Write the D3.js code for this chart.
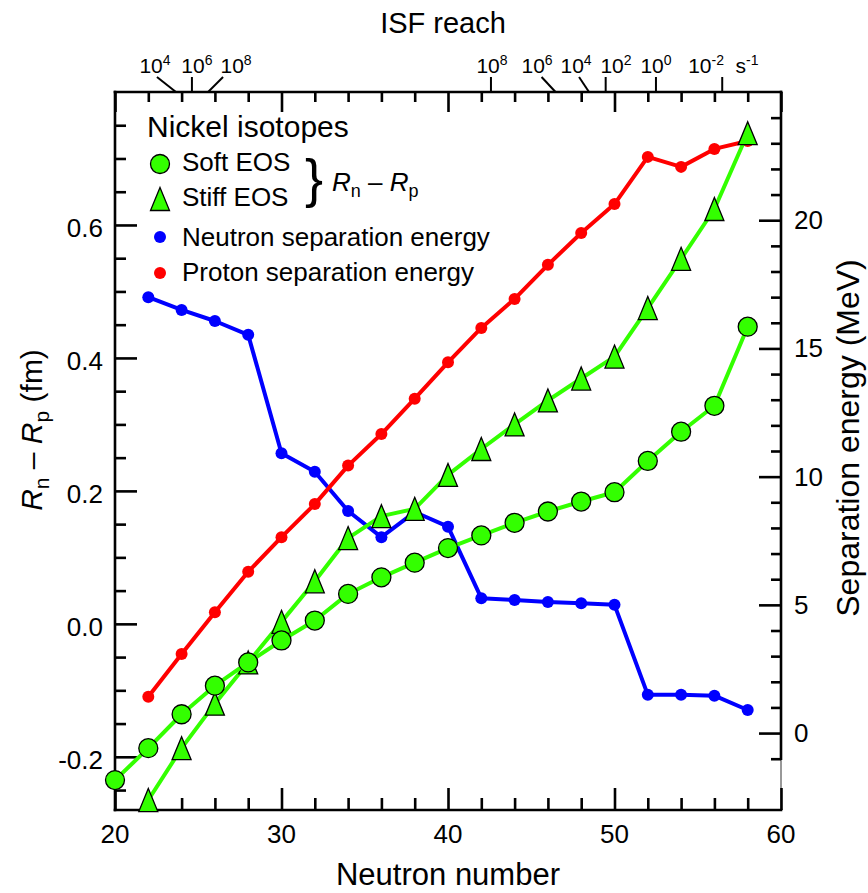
<!DOCTYPE html>
<html>
<head>
<meta charset="utf-8">
<script src="https://cdn.jsdelivr.net/npm/d3@7"></script>
<style>
  body { margin: 0; background: #fff; }
  svg text { font-family: "Liberation Sans", Arial, Helvetica, sans-serif; fill: #000; }
</style>
</head>
<body>
<div id="chartDiv"></div>
<script>
// DATA
var softN = [20, 22, 24, 26, 28, 30, 32, 34, 36, 38, 40, 42, 44, 46, 48, 50, 52, 54, 56, 58];
var softEOS = [-0.235, -0.187, -0.136, -0.093, -0.058, -0.025, 0.005, 0.045, 0.070, 0.092, 0.114,
  0.133, 0.152, 0.169, 0.184, 0.198, 0.245, 0.289, 0.328, 0.447];

var stiffN = [22, 24, 26, 28, 30, 32, 34, 36, 38, 40, 42, 44, 46, 48, 50, 52, 54, 56, 58];
var stiffEOS = [-0.265, -0.187, -0.120, -0.058, 0.003, 0.064, 0.129, 0.162, 0.173, 0.224,
  0.263, 0.300, 0.336, 0.369, 0.402, 0.475, 0.549, 0.624, 0.738];

var sepN = [22, 24, 26, 28, 30, 32, 34, 36, 38, 40, 42, 44, 46, 48, 50, 52, 54, 56, 58];
var neutronSep = [17.0, 16.5, 16.07, 15.53, 10.91, 10.19, 8.66, 7.64, 8.62, 8.05,
  5.26, 5.19, 5.11, 5.06, 5.0, 1.49, 1.49, 1.46, 0.9];
var protonSep = [1.42, 3.08, 4.71, 6.29, 7.64, 8.93, 10.43, 11.66, 13.04, 14.46,
  15.8, 16.93, 18.26, 19.5, 20.63, 22.47, 22.08, 22.78, 23.09];

var xMajor = [20, 30, 40, 50, 60];
var xLabels = ['20', '30', '40', '50', '60'];
var leftMajor = [-0.2, 0, 0.2, 0.4, 0.6];
var leftLabels = ['-0.2', '0.0', '0.2', '0.4', '0.6'];
var rightMajor = [0, 5, 10, 15, 20];
var rightLabels = ['0', '5', '10', '15', '20'];

// ISF reach annotations on the top axis (exponent, where it hits the axis, where the label sits)
var isfExp = ['4', '6', '8', '8', '6', '4', '2', '0', '-2'];
var isfTickN = [23.66, 24.62, 25.59, 42.58, 46.46, 48.47, 49.47, 52.49, 56.47];
var isfLabelN = [22.4, 24.92, 27.27, 42.64, 45.35, 47.69, 50.09, 52.49, 55.5];
var isfLineTopN = [22.52, 24.62, 26.49, 42.58, 45.62, 47.87, 49.47, 52.49, 56.47];

var green = '#33ff00', blue = '#0000ff', red = '#ff0000';

var w = 868, h = 893,
  padL = 115, padR = 781, padT = 92, padB = 810; //plot box edges in px

var svg = d3.select('#chartDiv').append('svg')
  .attr('width', w)
  .attr('height', h);

var x = d3.scaleLinear().domain([20, 60]).range([padL, padR]);
var yL = d3.scaleLinear().domain([-0.28, 0.8]).range([padB, padT]);
var yR = d3.scaleLinear().domain([-3, 25]).range([padB, padT]);

//thin frame, thick axes on top of it
svg.append('rect')
  .attr('x', padL).attr('y', padT)
  .attr('width', padR - padL).attr('height', padB - padT)
  .attr('fill', 'none').attr('stroke', '#777').attr('stroke-width', 1.5);

function axisLine(x1, y1, x2, y2) {
  svg.append('line')
    .attr('x1', x1).attr('y1', y1).attr('x2', x2).attr('y2', y2)
    .attr('stroke', '#000').attr('stroke-width', 2.6)
    .attr('stroke-linecap', 'square');
}
axisLine(padL, padT, padR, padT);
axisLine(padL, padB, padR, padB);
axisLine(padL, padT, padL, padB);
axisLine(padR, padT, padR, yR(-1));

// ticks (inward)
var xMinor = d3.range(22, 60, 2).filter(function(d) { return d % 10 !== 0; });
var leftMinor = d3.range(-5, 16, 1).filter(function(d) { return d % 4 !== 0; })
  .map(function(d) { return d * 0.05; });
var rightMinor = d3.range(-1, 25, 1).filter(function(d) { return d % 5 !== 0; });

function ticks(axis, tx, ty) {
  var g = svg.append('g')
    .attr('transform', 'translate(' + tx + ',' + ty + ')')
    .call(axis.tickFormat('').tickSizeOuter(0));
  g.select('.domain').remove();
  g.selectAll('line').attr('stroke', '#000').attr('stroke-width', 2.6);
}
ticks(d3.axisTop(x).tickValues(xMajor).tickSize(22), 0, padB);
ticks(d3.axisTop(x).tickValues(xMinor).tickSize(12), 0, padB);
ticks(d3.axisBottom(x).tickValues(xMajor).tickSize(20), 0, padT);
ticks(d3.axisBottom(x).tickValues(xMinor).tickSize(10), 0, padT);
ticks(d3.axisRight(yL).tickValues(leftMajor).tickSize(22), padL, 0);
ticks(d3.axisRight(yL).tickValues(leftMinor).tickSize(11), padL, 0);
ticks(d3.axisLeft(yR).tickValues(rightMajor).tickSize(22), padR, 0);
ticks(d3.axisLeft(yR).tickValues(rightMinor).tickSize(10), padR, 0);

// tick labels
svg.selectAll('.xlab').data(xMajor).enter().append('text')
  .attr('x', function(d) { return x(d); })
  .attr('y', 843)
  .attr('text-anchor', 'middle')
  .style('font-size', '26px')
  .text(function(d, i) { return xLabels[i]; });

svg.selectAll('.ylab').data(leftMajor).enter().append('text')
  .attr('x', 103)
  .attr('y', function(d) { return yL(d) + 12; })
  .attr('text-anchor', 'end')
  .style('font-size', '26px')
  .text(function(d, i) { return leftLabels[i]; });

svg.selectAll('.rlab').data(rightMajor).enter().append('text')
  .attr('x', 794)
  .attr('y', function(d) { return yR(d) + 9; })
  .style('font-size', '26px')
  .text(function(d, i) { return rightLabels[i]; });

// axis titles
svg.append('text')
  .attr('x', (padL + padR) / 2).attr('y', 885)
  .attr('text-anchor', 'middle')
  .style('font-size', '31px')
  .text('Neutron number');

svg.append('text')
  .attr('x', 443).attr('y', 33)
  .attr('text-anchor', 'middle')
  .style('font-size', '29px')
  .text('ISF reach');

var lt = svg.append('text')
  .attr('transform', 'translate(42,430) rotate(-90)')
  .attr('text-anchor', 'middle')
  .style('font-size', '30px');
lt.append('tspan').style('font-style', 'italic').text('R');
lt.append('tspan').attr('dy', 7).style('font-size', '21px').text('n');
lt.append('tspan').attr('dy', -7).text(' – ');
lt.append('tspan').style('font-style', 'italic').text('R');
lt.append('tspan').attr('dy', 7).style('font-size', '21px').text('p');
lt.append('tspan').attr('dy', -7).text(' (fm)');

svg.append('text')
  .attr('transform', 'translate(859,438) rotate(-90)')
  .attr('text-anchor', 'middle')
  .style('font-size', '32px')
  .text('Separation energy (MeV)');

// ISF reach labels
isfExp.forEach(function(e, i) {
  var t = svg.append('text')
    .attr('x', x(isfLabelN[i])).attr('y', 73)
    .attr('text-anchor', 'middle')
    .style('font-size', '21px');
  t.append('tspan').text('10');
  t.append('tspan').attr('dy', -8).style('font-size', '14px').text(e);

  svg.append('line')
    .attr('x1', x(isfLineTopN[i])).attr('y1', 77)
    .attr('x2', x(isfTickN[i])).attr('y2', padT)
    .attr('stroke', '#000').attr('stroke-width', 2);
});
var su = svg.append('text')
  .attr('x', 747).attr('y', 73)
  .attr('text-anchor', 'middle')
  .style('font-size', '21px');
su.append('tspan').text('s');
su.append('tspan').attr('dy', -8).style('font-size', '14px').text('-1');

// SERIES
function drawLine(xs, ys, yScale, color) {
  var line = d3.line()
    .x(function(d) { return x(d[0]); })
    .y(function(d) { return yScale(d[1]); });
  svg.append('path')
    .datum(d3.zip(xs, ys))
    .attr('d', line)
    .attr('fill', 'none')
    .attr('stroke', color)
    .attr('stroke-width', 4)
    .attr('stroke-linejoin', 'round');
}

function triPath(cx, cy) {
  var tw = 19, th = 23;
  return 'M' + cx + ',' + (cy - th / 2) + 'L' + (cx + tw / 2) + ',' + (cy + th / 2) +
    'L' + (cx - tw / 2) + ',' + (cy + th / 2) + 'Z';
}

drawLine(sepN, neutronSep, yR, blue);
svg.selectAll('.nsep').data(sepN).enter().append('circle')
  .attr('cx', function(d) { return x(d); })
  .attr('cy', function(d, i) { return yR(neutronSep[i]); })
  .attr('r', 6).attr('fill', blue);

drawLine(sepN, protonSep, yR, red);
svg.selectAll('.psep').data(sepN).enter().append('circle')
  .attr('cx', function(d) { return x(d); })
  .attr('cy', function(d, i) { return yR(protonSep[i]); })
  .attr('r', 6).attr('fill', red);

drawLine(stiffN, stiffEOS, yL, green);
svg.selectAll('.stiff').data(stiffN).enter().append('path')
  .attr('d', function(d, i) { return triPath(x(d), yL(stiffEOS[i])); })
  .attr('fill', green).attr('stroke', '#000').attr('stroke-width', 1.3);

drawLine(softN, softEOS, yL, green);
svg.selectAll('.soft').data(softN).enter().append('circle')
  .attr('cx', function(d) { return x(d); })
  .attr('cy', function(d, i) { return yL(softEOS[i]); })
  .attr('r', 9.5)
  .attr('fill', green).attr('stroke', '#000').attr('stroke-width', 1.3);

// LEGEND
svg.append('text').attr('x', 147).attr('y', 137).style('font-size', '30px').text('Nickel isotopes');

svg.append('circle').attr('cx', 160).attr('cy', 164).attr('r', 9.5)
  .attr('fill', green).attr('stroke', '#000').attr('stroke-width', 1.3);
svg.append('text').attr('x', 182).attr('y', 171).style('font-size', '26px').text('Soft EOS');

svg.append('path').attr('d', triPath(160, 199))
  .attr('fill', green).attr('stroke', '#000').attr('stroke-width', 1.3);
svg.append('text').attr('x', 182).attr('y', 206).style('font-size', '26px').text('Stiff EOS');

svg.append('text').attr('x', 305).attr('y', 197).style('font-size', '54px').text('}');

var rl = svg.append('text').attr('x', 332).attr('y', 191).style('font-size', '26px');
rl.append('tspan').style('font-style', 'italic').text('R');
rl.append('tspan').attr('dy', 6).style('font-size', '18px').text('n');
rl.append('tspan').attr('dy', -6).text(' – ');
rl.append('tspan').style('font-style', 'italic').text('R');
rl.append('tspan').attr('dy', 6).style('font-size', '18px').text('p');

svg.append('circle').attr('cx', 160).attr('cy', 237).attr('r', 6).attr('fill', blue);
svg.append('text').attr('x', 182).attr('y', 246).style('font-size', '26px').text('Neutron separation energy');

svg.append('circle').attr('cx', 160).attr('cy', 273).attr('r', 6).attr('fill', red);
svg.append('text').attr('x', 182).attr('y', 281).style('font-size', '26px').text('Proton separation energy');
</script>
</body>
</html>
